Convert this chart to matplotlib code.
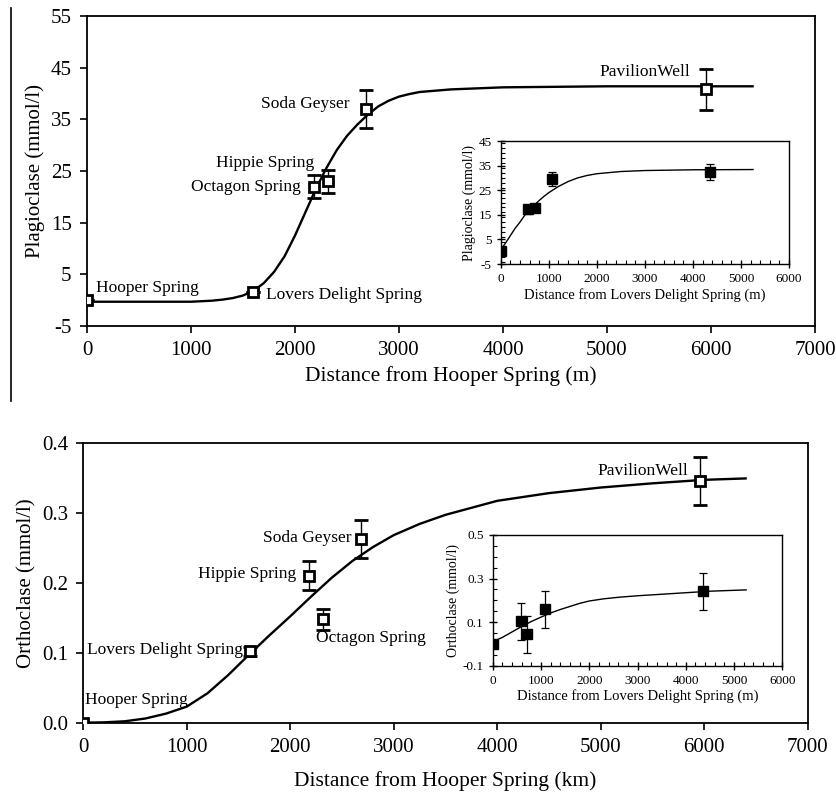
import numpy as np
import matplotlib.pyplot as plt
from matplotlib.lines import Line2D
from matplotlib.ticker import MultipleLocator

plt.rcParams['font.family'] = ['Liberation Serif', 'DejaVu Serif']

# ---- top panel: plagioclase ----
plag_sites = ['Hooper Spring', 'Lovers Delight Spring', 'Octagon Spring', 'Hippie Spring', 'Soda Geyser', 'PavilionWell']
plag_x = [0, 1600, 2180, 2320, 2680, 5950]
plag_y = [0.0, 1.5, 22.0, 23.0, 37.0, 40.8]
plag_err = [0.0, 0.0, 2.3, 2.2, 3.7, 4.0]
plag_fit_x = [0, 500, 1000, 1200, 1300, 1400, 1500, 1600, 1700, 1800, 1900, 2000, 2100, 2200,
              2300, 2400, 2500, 2600, 2700, 2800, 2900, 3000, 3100, 3200, 3500, 4000, 5000, 6000, 6400]
plag_fit_y = [-0.3, -0.3, -0.3, -0.1, 0.1, 0.4, 0.9, 1.8, 3.3, 5.5, 8.5, 12.5, 17.0, 21.5,
              25.5, 29.0, 31.8, 34.0, 35.9, 37.5, 38.6, 39.4, 39.9, 40.3, 40.8, 41.2, 41.4, 41.4, 41.4]
# label positions (x, y, ha)
plag_lab = [(90, 2.3, 'left'), (1720, 1.0, 'left'), (2060, 22.0, 'right'),
            (2190, 26.5, 'right'), (2520, 38.0, 'right'), (5800, 44.2, 'right')]

# inset: distance from Lovers Delight Spring
plag_in_x = [0, 565, 720, 1070, 4360]
plag_in_y = [0.4, 17.2, 17.9, 29.6, 32.5]
plag_in_err = [0.0, 1.8, 1.5, 3.0, 3.2]
plag_in_fit_x = [0, 100, 200, 300, 400, 500, 600, 700, 800, 900, 1000, 1200, 1400, 1600,
                 1800, 2000, 2500, 3000, 4000, 5250]
plag_in_fit_y = [0.8, 3.5, 6.5, 9.5, 12.0, 14.8, 17.0, 19.0, 20.8, 22.5, 24.0, 26.5, 28.5, 30.0,
                 31.0, 31.7, 32.6, 33.0, 33.3, 33.4]

# ---- bottom panel: orthoclase ----
orth_sites = ['Hooper Spring', 'Lovers Delight Spring', 'Hippie Spring', 'Octagon Spring', 'Soda Geyser', 'PavilionWell']
orth_x = [0, 1610, 2180, 2320, 2680, 5960]
orth_y = [0.0, 0.102, 0.210, 0.148, 0.263, 0.345]
orth_err = [0.0, 0.006, 0.021, 0.015, 0.027, 0.0345]
orth_fit_x = [0, 200, 400, 600, 800, 1000, 1200, 1400, 1600, 1800, 2000, 2200, 2400, 2600,
              2800, 3000, 3250, 3500, 4000, 4500, 5000, 5500, 6000, 6400]
orth_fit_y = [0.0, 0.0005, 0.002, 0.006, 0.013, 0.023, 0.042, 0.068, 0.097, 0.125, 0.152, 0.180,
              0.207, 0.231, 0.251, 0.268, 0.284, 0.297, 0.317, 0.328, 0.336, 0.342, 0.347, 0.349]
orth_lab = [(20, 0.033, 'left'), (1540, 0.104, 'right'), (2060, 0.212, 'right'),
            (2250, 0.1205, 'left'), (2595, 0.264, 'right'), (5850, 0.36, 'right')]

orth_in_x = [0, 585, 717, 1080, 4360]
orth_in_y = [0.0, 0.105, 0.044, 0.160, 0.241]
orth_in_err = [0.0, 0.085, 0.086, 0.085, 0.086]
orth_in_fit_x = [0, 200, 400, 600, 800, 1000, 1200, 1400, 1600, 1800, 2000, 2300, 2600, 3000,
                 3500, 4000, 4500, 5250]
orth_in_fit_y = [0.01, 0.03, 0.055, 0.08, 0.103, 0.123, 0.142, 0.158, 0.172, 0.186, 0.197, 0.207,
                 0.214, 0.221, 0.228, 0.235, 0.242, 0.248]


def main_panel(ax, fit_x, fit_y, x, y, err, sites, labs, ylim, yticks, ylabel, xlabel, yfmt, xpad):
    ax.plot(fit_x, fit_y, color='black', lw=1.7, zorder=2, solid_joinstyle='round')
    ax.errorbar(x, y, yerr=err, fmt='s', ms=7.5, mfc='white', mec='black', mew=2.0,
                ecolor='black', elinewidth=1.0, capsize=5, capthick=1.0, zorder=3)
    for name, (tx, ty, ha) in zip(sites, labs):
        ax.text(tx, ty, name, ha=ha, va='center', fontsize=12.5)
    ax.set_xlim(0, 7000)
    ax.set_ylim(*ylim)
    ax.set_xticks(range(0, 7001, 1000))
    ax.set_yticks(yticks)
    ax.set_yticklabels([yfmt.format(v) for v in yticks])
    ax.tick_params(labelsize=15, direction='out', length=5, width=1.2, pad=6)
    ax.set_ylabel(ylabel, fontsize=15)
    ax.set_xlabel(xlabel, fontsize=15.5, labelpad=xpad)
    for s in ax.spines.values():
        s.set_linewidth(1.3)


def inset_panel(ax, fit_x, fit_y, x, y, err, ylim, yticks, ymin, ylabel, yfmt):
    ax.plot(fit_x, fit_y, color='black', lw=1.0, zorder=2)
    ax.errorbar(x, y, yerr=err, fmt='s', ms=6.5, mfc='black', mec='black',
                ecolor='black', elinewidth=0.9, capsize=3, capthick=0.9, zorder=3)
    ax.set_xlim(0, 6000)
    ax.set_ylim(*ylim)
    ax.set_xticks(range(0, 6001, 1000))
    ax.set_yticks(yticks)
    ax.set_yticklabels([yfmt.format(v) for v in yticks])
    ax.xaxis.set_minor_locator(MultipleLocator(200))
    ax.yaxis.set_minor_locator(MultipleLocator(ymin))
    ax.tick_params(which='major', labelsize=9.5, direction='inout', length=6, width=1.0)
    ax.tick_params(which='minor', direction='in', length=3, width=0.8)
    ax.set_ylabel(ylabel, fontsize=10, labelpad=2)
    ax.set_xlabel('Distance from Lovers Delight Spring (m)', fontsize=10.5, labelpad=2)
    for s in ax.spines.values():
        s.set_linewidth(1.0)


fig = plt.figure(figsize=(8.37, 7.94), dpi=100)

ax1 = fig.add_axes([0.1039, 0.5894, 0.8698, 0.3904])
main_panel(ax1, plag_fit_x, plag_fit_y, plag_x, plag_y, plag_err, plag_sites, plag_lab,
           (-5, 55), [-5, 5, 15, 25, 35, 45, 55], 'Plagioclase (mmol/l)',
           'Distance from Hooper Spring (m)', '{:g}', 4)

in1 = fig.add_axes([0.5982, 0.6675, 0.3445, 0.1549])
inset_panel(in1, plag_in_fit_x, plag_in_fit_y, plag_in_x, plag_in_y, plag_in_err,
            (-5, 45), [-5, 5, 15, 25, 35, 45], 2, 'Plagioclase (mmol/l)', '{:g}')

ax2 = fig.add_axes([0.0995, 0.0898, 0.8655, 0.3526])
main_panel(ax2, orth_fit_x, orth_fit_y, orth_x, orth_y, orth_err, orth_sites, orth_lab,
           (0, 0.4), [0.0, 0.1, 0.2, 0.3, 0.4], 'Orthoclase (mmol/l)',
           'Distance from Hooper Spring (km)', '{:.1f}', 10)

in2 = fig.add_axes([0.5887, 0.1616, 0.346, 0.1646])
inset_panel(in2, orth_in_fit_x, orth_in_fit_y, orth_in_x, orth_in_y, orth_in_err,
            (-0.1, 0.5), [-0.1, 0.1, 0.3, 0.5], 0.05, 'Orthoclase (mmol/l)', '{:.1f}')

# stray vertical rule at the left edge of the top panel
fig.add_artist(Line2D([0.013, 0.013], [0.495, 0.99], color='black', lw=1.2))

plt.savefig('out.png', dpi=100)
